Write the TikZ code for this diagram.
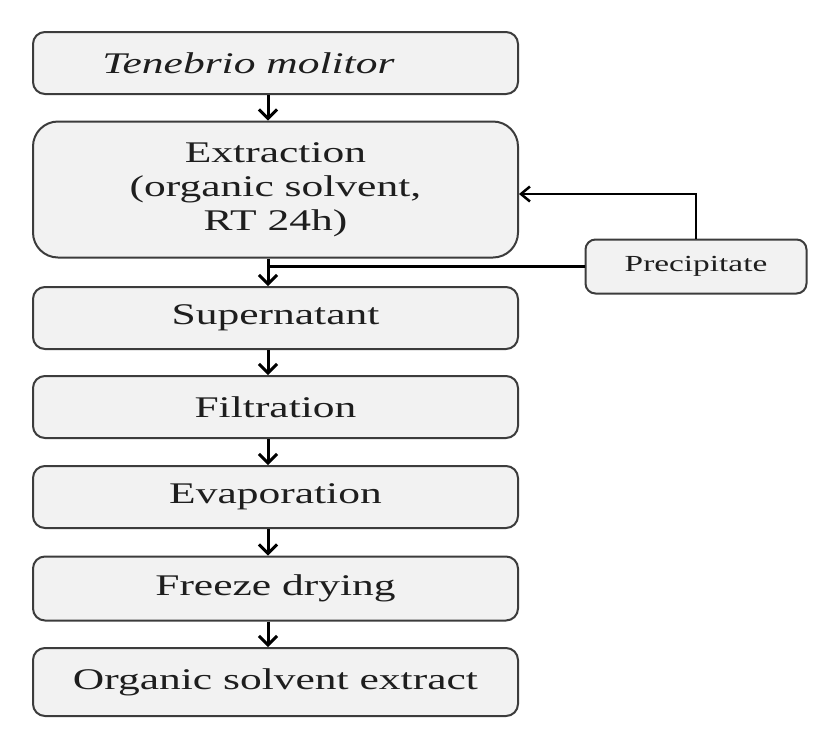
\documentclass[tikz,border=0pt]{standalone}
\usepackage{fontspec}
\setmainfont{Liberation Serif}[FakeStretch=1.45]
\usetikzlibrary{arrows.meta}
\definecolor{boxfill}{HTML}{F2F2F2}
\definecolor{boxline}{HTML}{3C3C3C}
\definecolor{txt}{HTML}{1E1E1E}
\tikzset{
  flowbox/.style={draw=boxline, fill=boxfill, line width=2pt, rounded corners=12pt,
    minimum width=485pt, inner sep=0pt, align=center, text=txt,
    font=\fontsize{30}{34}\selectfont},
  precbox/.style={draw=boxline, fill=boxfill, line width=2pt, rounded corners=10pt,
    minimum width=221pt, minimum height=54pt, inner sep=0pt, text=txt,
    font=\fontsize{23}{26}\selectfont},
  flowarrow/.style={line width=3pt, -{Straight Barb[length=9pt,width=18pt,line width=3pt]}},
  flowline/.style={line width=3pt},
  backarrow/.style={line width=2.5pt, -{Straight Barb[length=9pt,width=15pt,line width=2.5pt]}}
}
\begin{document}
\begin{tikzpicture}[x=1pt,y=-1pt]
\useasboundingbox[fill=white] (0,0) rectangle (827,737);
\coordinate (ax) at (268,0);
\node[flowbox, minimum height=62pt] (b1) at (275.5,63) {\hspace*{-54pt}\textit{Tenebrio molitor}};
\node[flowbox, minimum height=136pt, rounded corners=25pt] (b2) at (275.5,189.5)
  {Extraction\\(organic solvent,\\RT 24h)};
\node[flowbox, minimum height=62pt] (b3) at (275.5,318) {Supernatant};
\node[flowbox, minimum height=62pt] (b4) at (275.5,407) {Filtration};
\node[flowbox, minimum height=62pt] (b5) at (275.5,497) {Evaporation};
\node[flowbox, minimum height=64pt] (b6) at (275.5,588.5) {Freeze drying};
\node[flowbox, minimum height=68pt] (b7) at (275.5,682) {Organic solvent extract};
\node[precbox] (prec) at (696,266.5) {Precipitate};
\draw[flowarrow] (b1.south -| ax) -- (b2.north -| ax);
\draw[flowarrow] (b2.south -| ax) -- (b3.north -| ax);
\draw[flowarrow] (b3.south -| ax) -- (b4.north -| ax);
\draw[flowarrow] (b4.south -| ax) -- (b5.north -| ax);
\draw[flowarrow] (b5.south -| ax) -- (b6.north -| ax);
\draw[flowarrow] (b6.south -| ax) -- (b7.north -| ax);
\draw[flowline] (prec.west) -- ([xshift=-1.5pt]prec.west -| ax);
\draw[backarrow] (prec.north) |- ([yshift=-4.5pt]b2.east);
\end{tikzpicture}
\end{document}
